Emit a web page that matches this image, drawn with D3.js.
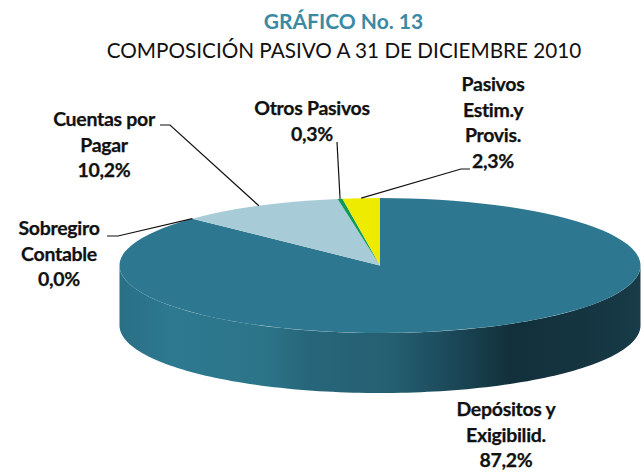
<!DOCTYPE html>
<html><head><meta charset="utf-8">
<script src="https://cdnjs.cloudflare.com/ajax/libs/d3/7.8.5/d3.min.js"></script>
<style>html,body{margin:0;padding:0;background:#fff}svg{display:block}text{font-family:Lato,Carlito,sans-serif}</style>
</head><body><svg id="c" width="644" height="472"></svg>
<script>
const categories=["Depósitos y Exigibilid.","Sobregiro Contable","Cuentas por Pagar","Otros Pasivos","Pasivos Estim.y Provis."];
const values=[87.2,0.0,10.2,0.3,2.3];
const valueLabels=["87,2%","0,0%","10,2%","0,3%","2,3%"];
const colors=["#2d7890","#2d7890","#a8ccd7","#0f9a5a","#eeea00"];
const labelLines=[["Depósitos y","Exigibilid."],["Sobregiro","Contable"],["Cuentas por","Pagar"],["Otros Pasivos"],["Pasivos","Estim.y","Provis."]];
const labelPos=[[506,416],[59,235],[104,126],[312,115],[493,91]];
const elbows=[null,[[118,236],[107,236]],[[170,125],[160,125]],[[337,142]],[[461,169],[470,169]]];

const W=644,H=472,cx=380,cy=265.5,rx=260.5,ry=67.5,depth=60,lh=25.6;
const svg=d3.select("#c");
const defs=svg.append("defs");
const grad=defs.append("linearGradient").attr("id","wall").attr("x1",0).attr("x2",1).attr("y1",0).attr("y2",0);
[[0,"#2a6f86"],[.1,"#2d7990"],[.28,"#2c7488"],[.36,"#27667a"],[.52,"#255f72"],[.64,"#1b4858"],[.75,"#12303b"],[.93,"#153642"],[1,"#183c49"]]
 .forEach(s=>grad.append("stop").attr("offset",s[0]).attr("stop-color",s[1]));

const pie=d3.pie().sort(null).value(d=>d)(values);
const proj=(a,dy=0)=>[cx+rx*Math.sin(a),cy-ry*Math.cos(a)+dy];

// side wall: front half of the rim, drawn with a d3 area over the front half of the ellipse
const xs=d3.scaleLinear().domain([0,1]).range([Math.PI/2,Math.PI*1.5]);
const rim=d3.range(0,1.0001,1/120).map(t=>proj(xs(t)));
svg.append("path")
 .attr("d",d3.area().x(d=>d[0]).y0(d=>d[1]).y1(d=>d[1]+depth)(rim))
 .attr("fill","url(#wall)");

// top face: d3.arc in a flattened frame
const arc=d3.arc().innerRadius(0).outerRadius(rx);
svg.append("g").attr("transform",`translate(${cx},${cy}) scale(1,${ry/rx})`)
 .selectAll("path").data(pie).join("path")
 .attr("d",arc).attr("fill",(d,i)=>colors[i]);

// leader lines
const line=d3.line();
pie.forEach((d,i)=>{
  if(!elbows[i])return;
  const a=(d.startAngle+d.endAngle)/2;
  svg.append("path").attr("d",line([proj(a),...elbows[i]])).attr("fill","none").attr("stroke","#111").attr("stroke-width",1.2);
});

// labels
categories.forEach((c,i)=>{
  const rows=[...labelLines[i],valueLabels[i]];
  const t=svg.append("text").attr("text-anchor","middle").attr("font-weight",700).attr("font-size",19.5).attr("fill","#111").attr("letter-spacing",-0.3).attr("stroke","#111").attr("stroke-width",0.25);
  rows.forEach((r,j)=>t.append("tspan").attr("x",labelPos[i][0]).attr("y",labelPos[i][1]+j*lh).text(r));
});

svg.append("text").attr("x",343.5).attr("y",29).attr("text-anchor","middle").attr("font-weight",700).attr("font-size",21).attr("fill","#3b8aa3").text("GRÁFICO No. 13");
svg.append("text").attr("x",344).attr("y",58).attr("text-anchor","middle").attr("font-size",20.7).attr("fill","#111").text("COMPOSICIÓN PASIVO A 31 DE DICIEMBRE 2010");
</script></body></html>
